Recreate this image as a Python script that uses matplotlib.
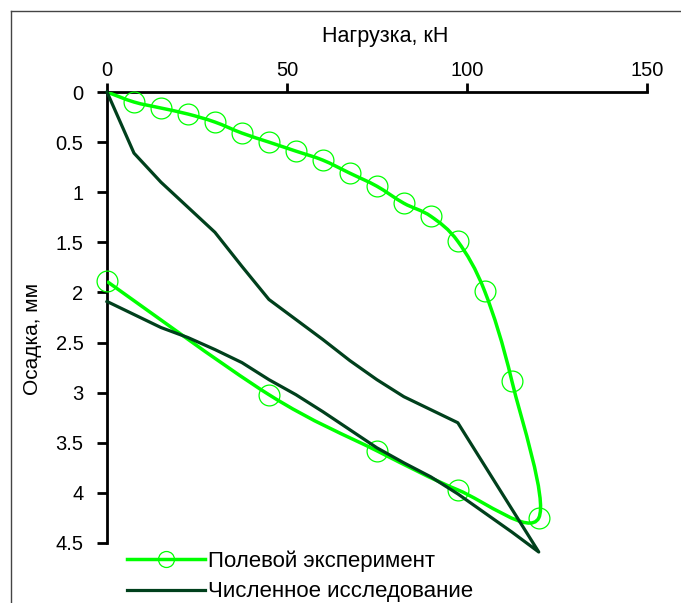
import matplotlib
matplotlib.use('Agg')
import matplotlib.pyplot as plt
from matplotlib.path import Path
from matplotlib.patches import PathPatch
from matplotlib.lines import Line2D

plt.rcParams['font.family'] = ['Liberation Sans', 'DejaVu Sans']
plt.rcParams['font.size'] = 15

# Полевой эксперимент (load, kN / settlement, mm) - loading then unloading
field_load = [0, 7.5, 15, 22.5, 30, 37.5, 45, 52.5, 60, 67.5, 75, 82.5, 90, 97.5, 105, 112.5, 120,
              97.5, 75, 45, 0]
field_settl = [0, 0.10, 0.16, 0.22, 0.30, 0.41, 0.50, 0.59, 0.68, 0.81, 0.94, 1.11, 1.24, 1.49, 1.99, 2.88, 4.25,
               3.97, 3.58, 3.02, 1.89]

# Численное исследование
num_load = [0, 7.5, 15, 22.5, 30, 37.5, 45, 52.5, 60, 67.5, 75, 82.5, 90, 97.5, 120,
            112.5, 105, 97.5, 90, 82.5, 75, 67.5, 60, 52.5, 45, 37.5, 30, 22.5, 15, 7.5, 0]
num_settl = [0, 0.61, 0.90, 1.15, 1.40, 1.74, 2.07, 2.27, 2.47, 2.68, 2.87, 3.04, 3.17, 3.30, 4.59,
             4.39, 4.20, 4.01, 3.84, 3.70, 3.55, 3.37, 3.19, 3.02, 2.87, 2.70, 2.57, 2.45, 2.35, 2.22, 2.09]

x_ticks = [0, 50, 100, 150]
y_ticks = [0, 0.5, 1, 1.5, 2, 2.5, 3, 3.5, 4, 4.5]
y_ticklabels = ['0', '0.5', '1', '1.5', '2', '2.5', '3', '3.5', '4', '4.5']

light = '#00ff00'
dark = '#00401c'


def smooth_path(xs, ys):
    # excel-like smoothed line: catmull-rom segments as cubic beziers
    pts = list(zip(xs, ys))
    n = len(pts)
    verts = [pts[0]]
    codes = [Path.MOVETO]
    for i in range(n - 1):
        p0 = pts[i - 1] if i > 0 else pts[i]
        p1 = pts[i]
        p2 = pts[i + 1]
        p3 = pts[i + 2] if i + 2 < n else pts[i + 1]
        c1 = (p1[0] + (p2[0] - p0[0]) / 6, p1[1] + (p2[1] - p0[1]) / 6)
        c2 = (p2[0] - (p3[0] - p1[0]) / 6, p2[1] - (p3[1] - p1[1]) / 6)
        verts += [c1, c2, p2]
        codes += [Path.CURVE4] * 3
    return Path(verts, codes)


fig = plt.figure(figsize=(6.81, 6.03), dpi=100)
ax = fig.add_axes([107 / 681, 1 - 543 / 603, 539.7 / 681, 451 / 603])

# outer chart frame, only left and top edges are inside the picture
fx, fy = 11 / 681, 1 - 11 / 603
fig.add_artist(Line2D([fx, fx], [0, fy], transform=fig.transFigure, color='#444444', lw=1.0))
fig.add_artist(Line2D([fx, 1], [fy, fy], transform=fig.transFigure, color='#444444', lw=1.0))

ax.add_patch(PathPatch(smooth_path(field_load, field_settl), facecolor='none',
                       edgecolor=light, lw=2.5, transform=ax.transData, zorder=3))
ax.plot(field_load[1:], field_settl[1:], linestyle='none', marker='o', ms=15,
        mfc='none', mec=light, mew=0.9, zorder=4, clip_on=False)
ax.plot(num_load, num_settl, color=dark, lw=2.3, zorder=5, clip_on=False)

ax.set_xlim(0, 150)
ax.set_ylim(4.5, 0)
ax.set_xticks(x_ticks)
ax.set_yticks(y_ticks)
ax.set_yticklabels(y_ticklabels)
ax.xaxis.tick_top()
ax.spines['bottom'].set_visible(False)
ax.spines['right'].set_visible(False)
for s in ['top', 'left']:
    ax.spines[s].set_linewidth(2)
ax.tick_params(axis='x', direction='out', length=6.5, width=2, pad=2, labelsize=14.5)
ax.tick_params(axis='y', direction='out', length=7, width=2, pad=10, labelsize=14.5)

fig.text(385 / 681, 1 - 42 / 603, 'Нагрузка, кН', ha='center', va='baseline', fontsize=15.5)
fig.text(32 / 681, 1 - 339 / 603, 'Осадка, мм', ha='center', va='center', rotation=90, fontsize=15)

handles = [
    Line2D([], [], color=light, lw=2.5, marker='o', ms=11.5, mfc='none', mec=light, mew=0.9),
    Line2D([], [], color=dark, lw=2.3),
]
fig.legend(handles, ['Полевой эксперимент', 'Численное исследование'], loc='upper left',
           bbox_to_anchor=(127 / 681, 1 - 550 / 603), frameon=False, handlelength=3.5,
           handletextpad=0.15, labelspacing=0.45, borderpad=0, borderaxespad=0,
           numpoints=1, fontsize=16)

fig.savefig('out.png', dpi=100)
